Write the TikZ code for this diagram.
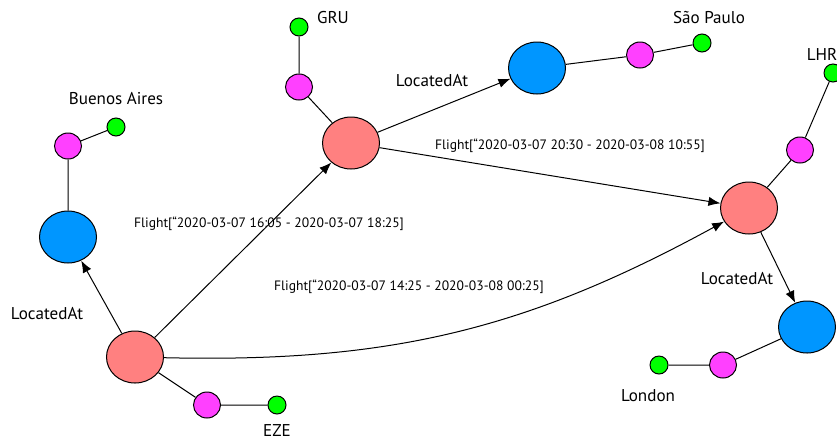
\documentclass[tikz,border=0pt]{standalone}
\usepackage{fontspec}
\setmainfont{PT Sans}
\usetikzlibrary{shapes.geometric,arrows.meta}
\definecolor{airportred}{RGB}{255,128,128}
\definecolor{cityblue}{RGB}{0,150,255}
\definecolor{propmagenta}{RGB}{255,64,255}
\definecolor{valgreen}{RGB}{0,255,0}
\begin{document}
\begin{tikzpicture}[x=0.75pt,y=-0.75pt,
  airport/.style={ellipse,draw,line width=0.75pt,fill=airportred,minimum width=42.75pt,minimum height=39pt,inner sep=0pt},
  city/.style={ellipse,draw,line width=0.75pt,fill=cityblue,minimum width=42.75pt,minimum height=39pt,inner sep=0pt},
  prop/.style={ellipse,draw,line width=0.75pt,fill=propmagenta,minimum width=20.25pt,minimum height=19.5pt,inner sep=0pt},
  val/.style={circle,draw,line width=0.75pt,fill=valgreen,minimum size=13.5pt,inner sep=0pt},
  namelabel/.style={font=\fontsize{12.8}{15}\selectfont,inner sep=0pt},
  flightlabel/.style={font=\fontsize{10.2}{12}\selectfont,inner sep=0pt},
  link/.style={line width=0.75pt},
  rel/.style={line width=0.75pt,-{Latex[length=9pt,width=7pt]}}]
\useasboundingbox (0,0) rectangle (837,440);

% airports
\node[airport] (eze) at (135,357) {};
\node[airport] (gru) at (351,143) {};
\node[airport] (lhr) at (749,208) {};

% cities
\node[city] (buenosaires) at (68,237) {};
\node[city] (saopaulo) at (537,68) {};
\node[city] (london) at (807,327) {};

% properties and values
\node[prop] (ezeprop) at (207,405) {};
\node[val] (ezeval) at (277,405) {};
\node[prop] (baprop) at (68,146) {};
\node[val] (baval) at (116,127) {};
\node[prop] (gruprop) at (299,87) {};
\node[val] (gruval) at (299,27) {};
\node[prop] (spprop) at (640,55) {};
\node[val] (spval) at (702,43) {};
\node[prop] (lhrprop) at (800,150) {};
\node[val] (lhrval) at (833,73) {};
\node[prop] (lonprop) at (723,365) {};
\node[val] (lonval) at (659,365) {};

% names
\node[namelabel] (ezename) at (277,431) {EZE};
\node[namelabel] (baname) at (116,99) {Buenos Aires};
\node[namelabel] (gruname) at (333,18) {GRU};
\node[namelabel] (spname) at (709,18) {São Paulo};
\node[namelabel] (lhrname) at (822,54) {LHR};
\node[namelabel] (lonname) at (648,396) {London};

% relation labels
\node[namelabel] (loc1) at (47,314) {LocatedAt};
\node[namelabel] (loc2) at (432,81) {LocatedAt};
\node[namelabel] (loc3) at (737,279) {LocatedAt};
\node[flightlabel] (fl1) at (269,224) {Flight[“2020-03-07 16:05 - 2020-03-07 18:25]};
\node[flightlabel] (fl2) at (570,146) {Flight[“2020-03-07 20:30 - 2020-03-08 10:55]};
\node[flightlabel] (fl3) at (409,287) {Flight[“2020-03-07 14:25 - 2020-03-08 00:25]};

% plain links
\draw[link] (eze) -- (ezeprop) -- (ezeval);
\draw[link] (buenosaires) -- (baprop) -- (baval);
\draw[link] (gru) -- (gruprop) -- (gruval);
\draw[link] (saopaulo) -- (spprop) -- (spval);
\draw[link] (lhr) -- (lhrprop) -- (lhrval);
\draw[link] (london) -- (lonprop) -- (lonval);

% relations
\draw[rel] (eze) -- (buenosaires);
\draw[rel] (eze) -- (gru);
\draw[rel] (eze) to[bend right=15] (lhr);
\draw[rel] (gru) -- (saopaulo);
\draw[rel] (gru) -- (lhr);
\draw[rel] (lhr) -- (london);
\end{tikzpicture}
\end{document}
